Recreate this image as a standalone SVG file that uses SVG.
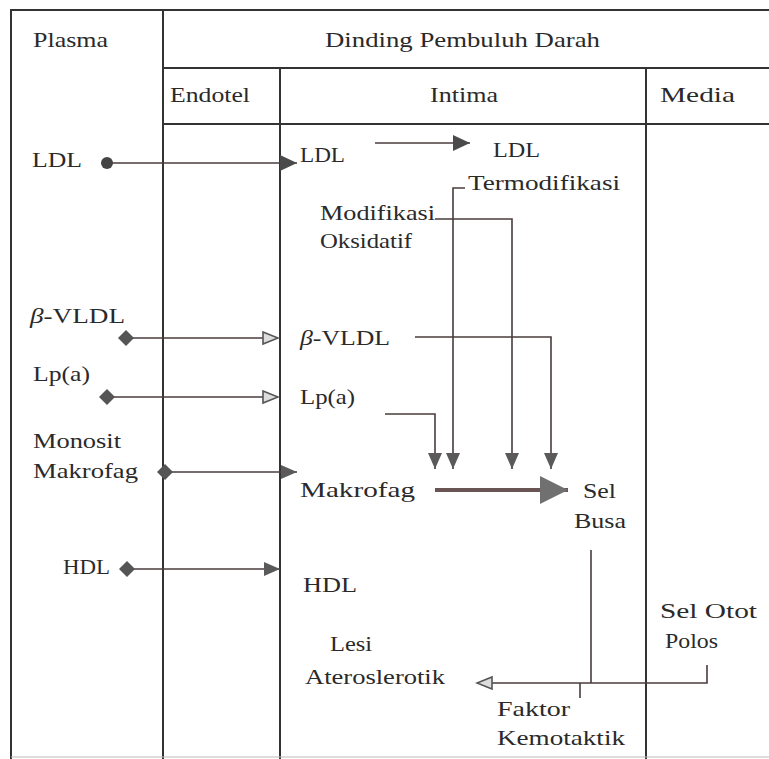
<svg xmlns="http://www.w3.org/2000/svg" width="769" height="759" viewBox="0 0 769 759">
<style>
text{font-family:"Liberation Serif","Times New Roman",serif;font-size:21px;fill:#2a2a2a}
.grid{stroke:#333;stroke-width:2;fill:none}
.c{stroke:#4a3c3c;stroke-width:1.6;fill:none}
</style>
<defs>
<marker id="af" markerUnits="userSpaceOnUse" markerWidth="18" markerHeight="16" refX="16" refY="7" orient="auto"><path d="M0,0 L16,7 L0,14 z" fill="#5a5a5a"/></marker>
<marker id="ao" markerUnits="userSpaceOnUse" markerWidth="18" markerHeight="16" refX="16" refY="7" orient="auto"><path d="M1,1 L16,7 L1,13 z" fill="#ddd" stroke="#555" stroke-width="1.6"/></marker>
<marker id="ad" markerUnits="userSpaceOnUse" markerWidth="20" markerHeight="18" refX="17" refY="8" orient="auto"><path d="M0,0 L17,8 L0,16 z" fill="#4a4a4a"/></marker>
<marker id="ab" markerUnits="userSpaceOnUse" markerWidth="30" markerHeight="30" refX="28" refY="14" orient="auto"><path d="M0,0 L28,14 L0,28 z" fill="#707070"/></marker>
<marker id="dot" markerUnits="userSpaceOnUse" markerWidth="14" markerHeight="14" refX="7" refY="7"><circle cx="7" cy="7" r="6" fill="#444"/></marker>
<marker id="dia" markerUnits="userSpaceOnUse" markerWidth="18" markerHeight="18" refX="9" refY="9"><path d="M9,1 L17,9 L9,17 L1,9 z" fill="#555"/></marker>
</defs>
<g id="table" class="grid">
<line x1="10" y1="10" x2="769" y2="10"/>
<line x1="163" y1="68" x2="769" y2="68"/>
<line x1="163" y1="124" x2="769" y2="124"/>
<line x1="11" y1="10" x2="11" y2="759"/>
<line x1="163" y1="10" x2="163" y2="759"/>
<line x1="280" y1="68" x2="280" y2="759"/>
<line x1="646" y1="68" x2="646" y2="759"/>
<line x1="11" y1="757" x2="769" y2="757" stroke="#bbb" stroke-width="1"/>
</g>
<g id="headers">
<text x="33" y="47" textLength="75" lengthAdjust="spacingAndGlyphs">Plasma</text>
<text x="325" y="47" textLength="275" lengthAdjust="spacingAndGlyphs">Dinding Pembuluh Darah</text>
<text x="170" y="102" textLength="80" lengthAdjust="spacingAndGlyphs">Endotel</text>
<text x="430" y="102" textLength="68" lengthAdjust="spacingAndGlyphs">Intima</text>
<text x="660" y="102" textLength="75" lengthAdjust="spacingAndGlyphs">Media</text>
</g>
<g id="plasma-ldl"><text x="32" y="167" textLength="50" lengthAdjust="spacingAndGlyphs">LDL</text></g>
<g id="plasma-bvldl"><text x="30" y="323" textLength="95" lengthAdjust="spacingAndGlyphs"><tspan font-style="italic">β</tspan>-VLDL</text></g>
<g id="plasma-lpa"><text x="33" y="381" textLength="57" lengthAdjust="spacingAndGlyphs">Lp(a)</text></g>
<g id="plasma-monosit"><text x="33" y="448" textLength="88" lengthAdjust="spacingAndGlyphs">Monosit</text><text x="33" y="478" textLength="105" lengthAdjust="spacingAndGlyphs">Makrofag</text></g>
<g id="plasma-hdl"><text x="63" y="574" textLength="47" lengthAdjust="spacingAndGlyphs">HDL</text></g>
<g id="intima-ldl"><text x="300" y="162" textLength="45" lengthAdjust="spacingAndGlyphs">LDL</text></g>
<g id="ldl-mod"><text x="493" y="157" textLength="47" lengthAdjust="spacingAndGlyphs">LDL</text><text x="468" y="190" textLength="152" lengthAdjust="spacingAndGlyphs">Termodifikasi</text></g>
<g id="mod-oks"><text x="320" y="220" textLength="115" lengthAdjust="spacingAndGlyphs">Modifikasi</text><text x="320" y="248" textLength="92" lengthAdjust="spacingAndGlyphs">Oksidatif</text></g>
<g id="intima-bvldl"><text x="300" y="345" textLength="90" lengthAdjust="spacingAndGlyphs"><tspan font-style="italic">β</tspan>-VLDL</text></g>
<g id="intima-lpa"><text x="300" y="404" textLength="55" lengthAdjust="spacingAndGlyphs">Lp(a)</text></g>
<g id="intima-makrofag"><text x="300" y="497" textLength="115" lengthAdjust="spacingAndGlyphs">Makrofag</text></g>
<g id="sel-busa"><text x="583" y="498" textLength="33" lengthAdjust="spacingAndGlyphs">Sel</text><text x="574" y="528" textLength="52" lengthAdjust="spacingAndGlyphs">Busa</text></g>
<g id="intima-hdl"><text x="303" y="592" textLength="54" lengthAdjust="spacingAndGlyphs">HDL</text></g>
<g id="sel-otot"><text x="660" y="618" textLength="97" lengthAdjust="spacingAndGlyphs">Sel Otot</text><text x="665" y="648" textLength="53" lengthAdjust="spacingAndGlyphs">Polos</text></g>
<g id="lesi"><text x="330" y="651" textLength="42" lengthAdjust="spacingAndGlyphs">Lesi</text><text x="305" y="684" textLength="140" lengthAdjust="spacingAndGlyphs">Ateroslerotik</text></g>
<g id="faktor"><text x="497" y="716" textLength="73" lengthAdjust="spacingAndGlyphs">Faktor</text><text x="497" y="745" textLength="128" lengthAdjust="spacingAndGlyphs">Kemotaktik</text></g>
<g id="connectors" class="c">
<path d="M107,163 H297" marker-start="url(#dot)" marker-end="url(#ad)"/>
<path d="M375,143 H470" marker-end="url(#ad)"/>
<path d="M126,338 H278" marker-start="url(#dia)" marker-end="url(#ao)"/>
<path d="M107,397 H278" marker-start="url(#dia)" marker-end="url(#ao)"/>
<path d="M165,472 H297" marker-start="url(#dia)" marker-end="url(#af)"/>
<path d="M127,569 H280" marker-start="url(#dia)" marker-end="url(#af)"/>
<path d="M465,188 H453 V469" marker-end="url(#af)"/>
<path d="M435,219 H512 V469" marker-end="url(#af)"/>
<path d="M415,337 H551 V469" marker-end="url(#af)"/>
<path d="M385,414 H435 V469" marker-end="url(#af)"/>
<path d="M435,490 H568" stroke-width="4" stroke="#6a5555" marker-end="url(#ab)"/>
<path d="M591,550 V683"/>
<path d="M707,665 V683 H477" marker-end="url(#ao)"/>
<path d="M580,683 V698"/>
</g>
</svg>
